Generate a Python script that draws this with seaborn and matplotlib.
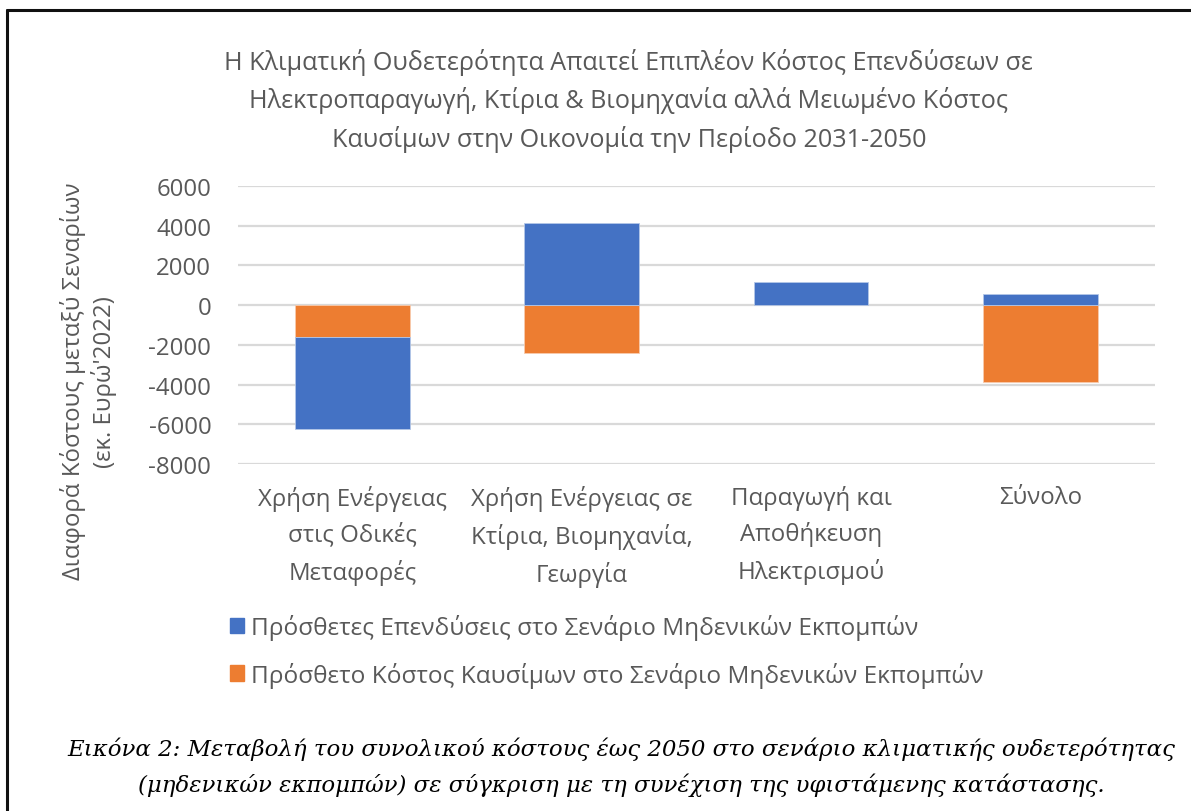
import matplotlib
matplotlib.use("Agg")
import matplotlib.pyplot as plt
import seaborn as sns
import numpy as np
import pandas as pd
from matplotlib.patches import Patch
from matplotlib.lines import Line2D

# ---- data ----
categories = [
    "Χρήση Ενέργειας\nστις Οδικές\nΜεταφορές",
    "Χρήση Ενέργειας σε\nΚτίρια, Βιομηχανία,\nΓεωργία",
    "Παραγωγή και\nΑποθήκευση\nΗλεκτρισμού",
    "Σύνολο",
]
investments = [-4650, 4120, 1170, 530]      # Πρόσθετες Επενδύσεις
fuel_cost = [-1600, -2420, 0, -3880]         # Πρόσθετο Κόστος Καυσίμων
series_names = [
    "Πρόσθετες Επενδύσεις στο Σενάριο Μηδενικών Εκπομπών",
    "Πρόσθετο Κόστος Καυσίμων στο Σενάριο Μηδενικών Εκπομπών",
]
yticks = [6000, 4000, 2000, 0, -2000, -4000, -6000, -8000]
title = ("Η Κλιματική Ουδετερότητα Απαιτεί Επιπλέον Κόστος Επενδύσεων σε\n"
         "Ηλεκτροπαραγωγή, Κτίρια & Βιομηχανία αλλά Μειωμένο Κόστος\n"
         "Καυσίμων στην Οικονομία την Περίοδο 2031-2050")
ylabel = "Διαφορά Κόστους μεταξύ Σεναρίων\n(εκ. Ευρώ'2022)"
caption = ("Εικόνα 2: Μεταβολή του συνολικού κόστους έως 2050 στο σενάριο κλιματικής ουδετερότητας\n"
           "(μηδενικών εκπομπών) σε σύγκριση με τη συνέχιση της υφιστάμενης κατάστασης.")

BLUE = "#4472C4"
ORANGE = "#ED7D31"
GRAY = "#595959"
FS = 17.3

sns.set_theme(style="white")
plt.rcParams["font.family"] = ["Open Sans", "DejaVu Sans"]
plt.rcParams["ytick.left"] = True
plt.rcParams["xtick.bottom"] = True

df = pd.DataFrame({"cat": categories, "inv": investments, "fuel": fuel_cost})
# stacking: orange (fuel) drawn first from zero; blue stacks on the same side
inv_bottom = np.where((df["inv"].values < 0) & (df["fuel"].values < 0), df["fuel"].values, 0.0)

fig = plt.figure(figsize=(11.91, 8.12), dpi=100)
ax = fig.add_axes([0.1996, 0.4273, 0.9698 - 0.1996, 0.770 - 0.4273])

sns.barplot(data=df, x="cat", y="fuel", color=ORANGE, saturation=1, width=0.5,
            ax=ax, edgecolor="#F8CBAD", linewidth=0.6, zorder=3)
sns.barplot(data=df, x="cat", y="inv", color=BLUE, saturation=1, width=0.5,
            bottom=inv_bottom, ax=ax, edgecolor="#B4C7E7", linewidth=0.6, zorder=3)

ax.set_ylim(-8000, 6000)
ax.set_xlim(-0.5, len(categories) - 0.5)
ax.set_yticks(yticks)
ax.set_yticklabels([str(v) for v in yticks])
ax.tick_params(axis="y", labelsize=FS, labelcolor=GRAY, length=0, pad=19)
ax.tick_params(axis="x", labelsize=FS, labelcolor=GRAY, length=0, pad=15)
for lab in ax.get_xticklabels():
    lab.set_linespacing(1.6)
ax.yaxis.grid(True, color="#D9D9D9", linewidth=1.6, zorder=0)
ax.xaxis.grid(False)
for s in ax.spines.values():
    s.set_visible(False)
ax.set_xlabel("")
ax.set_ylabel("")

# y label (two rotated lines)
fig.text(0.0745, 0.53, ylabel, rotation=90, ha="center", va="center",
         fontsize=FS, color=GRAY, linespacing=1.25)

# title
fig.text(0.528, 0.876, title, ha="center", va="center", fontsize=18.1,
         color=GRAY, linespacing=1.55)

# legend
handles = [Patch(facecolor=BLUE, edgecolor=BLUE), Patch(facecolor=ORANGE, edgecolor=ORANGE)]
leg = fig.legend(handles, series_names, loc="upper left", bbox_to_anchor=(0.193, 0.2425),
                 frameon=False, fontsize=17.6, labelspacing=0.88, handlelength=0.58,
                 handleheight=0.58, handletextpad=0.3, borderaxespad=0, borderpad=0)
for t in leg.get_texts():
    t.set_color(GRAY)

# caption
fig.text(0.522, 0.0554, caption, ha="center", va="center", fontsize=16.5,
         style="italic", family=["DejaVu Serif"], color="black", linespacing=1.65)

# frame (top and left lines)
fig.add_artist(Line2D([0.0059, 0.0059], [0.0, 0.9865], transform=fig.transFigure,
                      color="#111111", linewidth=2.2))
fig.add_artist(Line2D([0.0059, 1.0], [0.9865, 0.9865], transform=fig.transFigure,
                      color="#111111", linewidth=2.2))

fig.savefig("out.png", dpi=100)
